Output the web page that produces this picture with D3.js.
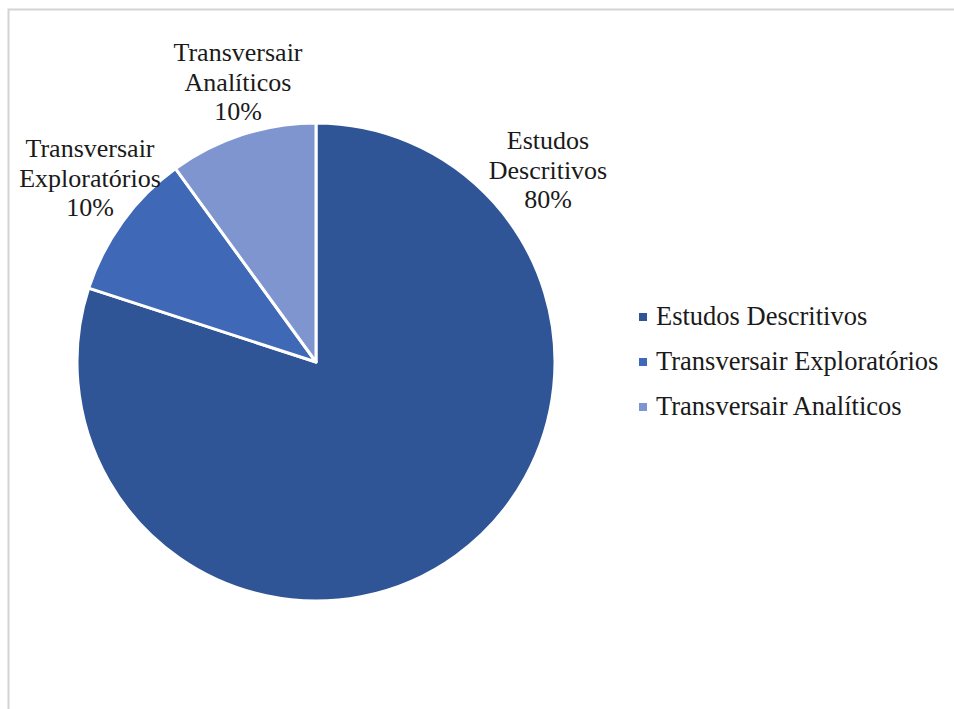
<!DOCTYPE html>
<html>
<head>
<meta charset="utf-8">
<script src="https://cdn.jsdelivr.net/npm/d3@7"></script>
<style>
  body { margin: 0; background: #fff; }
  text { font-family: "Liberation Serif", serif; fill: #1a1a1a; }
</style>
</head>
<body>
<div class="chart"></div>
<script>
var svgWidth = 954;
var svgHeight = 709;

// data
var categories = ["Estudos Descritivos", "Transversair Exploratórios", "Transversair Analíticos"];
var labelLines = [["Estudos", "Descritivos"], ["Transversair", "Exploratórios"], ["Transversair", "Analíticos"]];
var values = [80, 10, 10];
var colors = ["#2F5597", "#3F68B6", "#7E95D0"];

var data = categories.map(function(c, i) {
  return { name: c, lines: labelLines[i], value: values[i], color: colors[i] };
});

var svg = d3.select(".chart")
  .append("svg")
  .attr("width", svgWidth)
  .attr("height", svgHeight);

// chart area border
svg.append("rect")
  .attr("x", 8.5)
  .attr("y", 9.5)
  .attr("width", 1000)
  .attr("height", 800)
  .attr("fill", "none")
  .attr("stroke", "#d4d4d4")
  .attr("stroke-width", 2);

var cx = 316, cy = 362, radius = 239;

var pie = d3.pie()
  .sort(null)
  .value(d => d.value);

var arc = d3.arc()
  .innerRadius(0)
  .outerRadius(radius);

var pieGroup = svg.append("g")
  .attr("transform", `translate(${cx}, ${cy})`);

pieGroup.selectAll("path")
  .data(pie(data))
  .enter()
  .append("path")
  .attr("d", arc)
  .attr("fill", d => d.data.color)
  .attr("stroke", "#fff")
  .attr("stroke-width", 3)
  .attr("stroke-linejoin", "round");

// data labels (positioned outside the slices)
var labelPos = [[548, 149], [90, 157], [238, 61]];
var fontSize = 26;
var lineH = 29.5;

var labels = svg.selectAll(".dlabel")
  .data(pie(data))
  .enter()
  .append("text")
  .attr("class", "dlabel")
  .attr("text-anchor", "middle")
  .attr("font-size", fontSize)
  .attr("transform", (d, i) => `translate(${labelPos[i][0]}, ${labelPos[i][1]})`);

labels.each(function(d) {
  var t = d3.select(this);
  var pct = Math.round((d.endAngle - d.startAngle) / (2 * Math.PI) * 100) + "%";
  d.data.lines.concat([pct]).forEach(function(line, j) {
    t.append("tspan")
      .attr("x", 0)
      .attr("y", j * lineH)
      .text(line);
  });
});

// legend
var legend = svg.append("g")
  .attr("transform", "translate(639, 317)");

var legendScale = d3.scalePoint()
  .domain(categories)
  .range([0, 90]);

var items = legend.selectAll("g")
  .data(data)
  .enter()
  .append("g")
  .attr("transform", d => `translate(0, ${legendScale(d.name)})`);

items.append("rect")
  .attr("x", 0)
  .attr("y", -4)
  .attr("width", 8)
  .attr("height", 8)
  .attr("fill", d => d.color);

items.append("text")
  .attr("x", 17)
  .attr("y", 8)
  .attr("font-size", 26.5)
  .text(d => d.name);
</script>
</body>
</html>
